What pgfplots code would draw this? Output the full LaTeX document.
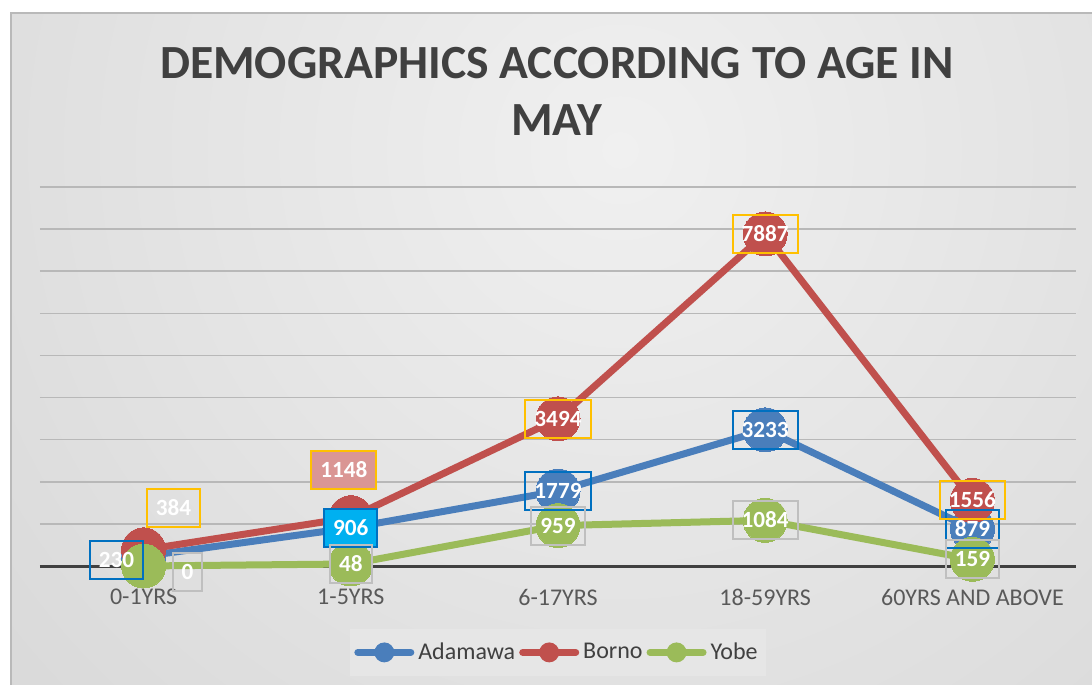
\documentclass[border=0pt]{standalone}
\usepackage{pgfplots}
\pgfplotsset{compat=1.18}
\usepackage{pgfplotstable}
\usepackage{fontspec}
\setmainfont{Carlito}
\definecolor{adblue}{HTML}{4A7EBB}
\definecolor{bored}{HTML}{C0504D}
\definecolor{yogreen}{HTML}{9BBB59}
\definecolor{boxblue}{HTML}{0070C0}
\definecolor{boxyellow}{HTML}{FFC000}
\definecolor{boxgray}{HTML}{BFBFBF}
\definecolor{cyanfill}{HTML}{00B0F0}
\definecolor{pinkfill}{HTML}{DA9694}
\definecolor{titlegray}{HTML}{404040}
\definecolor{labgray}{HTML}{595959}
\definecolor{gridgray}{HTML}{B8B8B8}
\definecolor{bginner}{HTML}{F0F0F0}
\definecolor{bgouter}{HTML}{C9C9C9}
\definecolor{legfill}{HTML}{E6E6E6}

\pgfplotstableread{
x y dx dy f
0 230 -13.5 -2 0
1 906 0 0 1
2 1779 0 0 0
3 3233 0 0 0
4 879 0 0 0
}\adamawa
\pgfplotstableread{
x y dx dy f
0 384 15 21 0
1 1148 -3.5 24 1
2 3494 0 0 0
3 7887 0 0 0
4 1556 0 0 0
}\borno
\pgfplotstableread{
x y dx dy f
0 0 22 -3 0
1 48 0 0 0
2 959 0 0 0
3 1084 0 0 0
4 159 0 0 0
}\yobe

\pgfplotsset{
  lab/.style n args={2}{only marks, mark=none, forget plot,
    point meta=explicit symbolic,
    visualization depends on={\thisrow{dx}\as\dx},
    visualization depends on={\thisrow{dy}\as\dy},
    visualization depends on={\thisrow{f}\as\ff},
    nodes near coords,
    nodes near coords style={anchor=center, font=\bfseries\fontsize{11.6}{13}\selectfont,
      text=white, inner xsep=4.5pt, inner ysep=5.8pt, text height=7.4pt, text depth=0pt,
      line width=1pt, draw=#1, fill=#2, fill opacity=\ff, text opacity=1,
      xshift=\dx pt, yshift=\dy pt}},
  ser/.style={line width=3.5pt, color=#1, mark=*, mark size=11pt,
    mark options={solid, fill=#1, draw=#1, line width=0pt},
    legend image code/.code={\draw[line width=3.5pt, #1, line cap=round] (1.75pt,0pt) -- (28.25pt,0pt);
      \fill[#1] (15pt,0pt) circle (3.2pt);}}
}

\begin{document}
\begin{tikzpicture}
\useasboundingbox (0,0) rectangle (546pt,342.5pt);
\fill[white] (0,0) rectangle (546pt,342.5pt);
\begin{scope}
\clip (5.5pt,0) rectangle (546pt,336pt);
\shade[inner color=bginner, outer color=bgouter] (310pt,267.5pt) circle (700pt);
\end{scope}
\draw[gray!55, line width=0.8pt] (5.5pt,0) -- (5.5pt,336pt) -- (546pt,336pt);

\node[font=\bfseries\fontsize{23.8}{28.5}\selectfont, text=titlegray, align=center]
  at (278.5pt,296.75pt) {DEMOGRAPHICS ACCORDING TO AGE IN\\MAY};

\begin{axis}[
  at={(20pt,59.5pt)}, anchor=south west,
  scale only axis, width=518pt, height=189.5pt,
  xmin=-0.5, xmax=4.5, ymin=0, ymax=9000,
  clip=false,
  axis line style={draw=none},
  tick style={draw=none}, major tick length=0pt,
  xtick={0,1,2,3,4},
  xticklabels={0-1YRS,1-5YRS,6-17YRS,18-59YRS,60YRS AND ABOVE},
  xticklabel style={anchor=center, yshift=-15.5pt, font=\fontsize{12}{14}\selectfont, text=labgray},
  ytick={1000,2000,...,9000}, yticklabels={},
  ymajorgrids, grid style={color=gridgray, line width=0.75pt},
  extra y ticks={0}, extra y tick labels={},
  extra y tick style={grid style={color=titlegray, line width=1.5pt}},
  legend columns=3,
  legend style={at={(0.5,-0.228)}, anchor=center, draw=none, fill=legfill,
    font=\fontsize{12}{14}\selectfont, text=titlegray,
    inner xsep=2pt, inner ysep=5pt,
    /tikz/every even column/.append style={column sep=0pt},
    /tikz/every odd column/.append style={column sep=0pt}},
]
\addplot[ser=adblue] table[x=x,y=y] {\adamawa};
\addlegendentry{Adamawa}
\addplot[ser=bored] table[x=x,y=y] {\borno};
\addlegendentry{Borno}
\addplot[ser=yogreen] table[x=x,y=y] {\yobe};
\addlegendentry{Yobe}

\addplot[lab={boxblue}{cyanfill}] table[x=x,y=y,meta=y] {\adamawa};
\addplot[lab={boxyellow}{pinkfill}] table[x=x,y=y,meta=y] {\borno};
\addplot[lab={boxgray}{white}] table[x=x,y=y,meta=y] {\yobe};
\end{axis}
\end{tikzpicture}
\end{document}
